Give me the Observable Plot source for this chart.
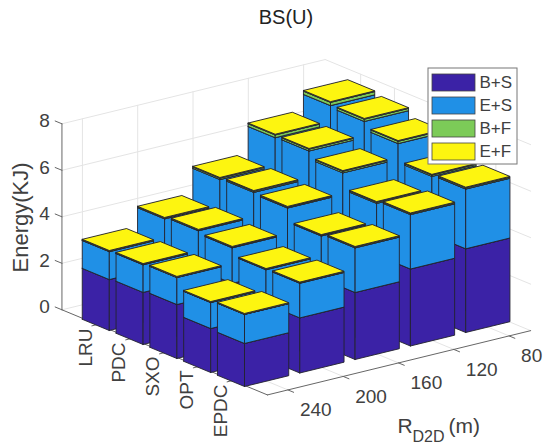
<!DOCTYPE html>
<html><head><meta charset="utf-8">
<script src="https://cdn.jsdelivr.net/npm/d3@7"></script>
<script src="https://cdn.jsdelivr.net/npm/@observablehq/plot@0.6"></script>
<style>html,body{margin:0;padding:0;background:#fff}svg{display:block}</style>
</head><body><div id="chart"></div>
<script>
const categories = ["LRU","PDC","SXO","OPT","EPDC"];
const ranges = [240,200,160,120,80];
const zTicks = [0,2,4,6,8];
const seriesNames = ["B+S","E+S","B+F","E+F"];
const seriesColors = ["#3b22a6","#2090e6","#7ccb58","#fdf510"];
const bS = [[2.19,2.65,3.25,3.90,4.40],[2.24,2.70,3.30,3.95,4.40],[2.32,2.65,3.20,3.75,4.10],[1.89,2.35,2.85,3.30,3.60],[1.85,2.37,2.88,3.31,3.60]];
const eS = [[1.20,1.57,2.08,2.65,2.95],[1.19,1.61,2.08,2.63,2.87],[1.16,1.53,2.11,2.49,2.82],[1.12,1.49,1.86,2.23,2.51],[1.25,1.49,1.92,2.34,2.57]];
const bF = [[.02,.03,.06,.12,.14],[.02,.03,.05,.08,.10],[.02,.03,.04,.07,.10],[.01,.02,.03,.05,.06],[.01,.02,.03,.04,.05]];
const eF = [[.03,.03,.03,.03,.03],[.03,.03,.03,.03,.03],[.03,.03,.03,.03,.03],[.03,.03,.03,.03,.03],[.03,.03,.03,.03,.03]];
const layers = [bS,eS,bF,eF];

// Orthographic view of the 3-D axes: i = category index, j = range index, z = energy.
const V = {ox:244, oy:386, ix:33.8, iy:14, jx:55.3, jy:-13.5, kz:23.25, i0:4.4, j0:-0.4};
const iMin=-1.05, iMax=5.03, jMin=-0.37, jMax=4.39, zMax=8, half=0.4;
const px=(i,j)=>V.ox+V.ix*(i-V.i0)+V.jx*(j-V.j0);
const py=(i,j,z)=>V.oy+V.iy*(i-V.i0)+V.jy*(j-V.j0)-V.kz*z;
const pt=(i,j,z,extra)=>({x:px(i,j),y:py(i,j,z),...extra});

// Bar faces, painted back to front
const faces=[]; let fid=0;
function face(corners,series){fid++;const closed=[...corners,corners[0]];closed.forEach(c=>faces.push(pt(c[0],c[1],c[2],{id:fid,series})));}
for(let j=ranges.length-1;j>=0;j--){
  for(let i=0;i<categories.length;i++){
    let base=0;
    layers.forEach((layer,s)=>{
      const top=base+layer[i][j], n=seriesNames[s];
      const a=i-half,b=i+half,c=j-half,d=j+half;
      face([[a,c,base],[b,c,base],[b,c,top],[a,c,top]],n);
      face([[b,c,base],[b,d,base],[b,d,top],[b,c,top]],n);
      face([[a,c,top],[b,c,top],[b,d,top],[a,d,top]],n);
      base=top;
    });
  }
}

// Grid and axes as segments
const grid=[],axes=[]; let sid=0;
const seg=(arr,p,q)=>{sid++;arr.push(pt(...p,{id:sid}),pt(...q,{id:sid}));};
zTicks.forEach(z=>{
  seg(grid,[iMin,jMin,z],[iMin,jMax,z]);
  seg(grid,[iMin,jMax,z],[iMax,jMax,z]);
});
categories.forEach((_,i)=>{
  seg(grid,[i,jMin,0],[i,jMax,0]);
  seg(grid,[i,jMax,0],[i,jMax,zMax]);
});
ranges.forEach((_,j)=>{
  seg(grid,[iMin,j,0],[iMax,j,0]);
  seg(grid,[iMin,j,0],[iMin,j,zMax]);
});
seg(axes,[iMin,jMin,0],[iMin,jMin,zMax]);
seg(axes,[iMin,jMin,0],[iMax,jMin,0]);
seg(axes,[iMax,jMin,0],[iMax,jMax,0]);
zTicks.forEach(z=>seg(axes,[iMin,jMin,z],[iMin-0.2,jMin,z]));
categories.forEach((_,i)=>seg(axes,[i,jMin,0],[i,jMin-0.1,0]));
ranges.forEach((_,j)=>seg(axes,[iMax,j,0],[iMax+0.17,j,0]));

const textCol="#404040", font="Liberation Sans, Arial, sans-serif";
const legendRows=seriesNames.map((name,k)=>({name,top:74+k*23,bottom:91+k*23}));
const legendBox=[{x1:428,x2:517,y1:68,y2:164}];

const chart=Plot.plot({
  width:543,height:445,margin:0,
  x:{domain:[0,543],range:[0,543],axis:null},
  y:{domain:[0,445],range:[0,445],axis:null},
  color:{domain:seriesNames,range:seriesColors},
  style:{fontFamily:font,background:"#fff",overflow:"visible"},
  marks:[
    Plot.line(grid,{x:"x",y:"y",z:"id",stroke:"#e4e4e4",strokeWidth:1}),
    Plot.line(axes,{x:"x",y:"y",z:"id",stroke:"#666",strokeWidth:1}),
    Plot.line(faces,{x:"x",y:"y",z:"id",fill:"series",stroke:"#23232e",strokeWidth:0.9,strokeLinejoin:"round"}),
    Plot.text(zTicks,{x:z=>px(iMin,jMin),y:z=>py(iMin,jMin,z),text:z=>String(z),textAnchor:"end",dx:-12,dy:-2.5,fontSize:19,fill:textCol}),
    Plot.text(categories,{x:(d,i)=>px(i,jMin),y:(d,i)=>py(i,jMin,0),text:d=>d,rotate:-90,textAnchor:"end",dx:-12,dy:4,fontSize:19,fill:textCol}),
    Plot.text(ranges,{x:(d,j)=>px(iMax,j),y:(d,j)=>py(iMax,j,0),text:d=>String(d),textAnchor:"start",dx:12,dy:20,fontSize:19,fill:textCol}),
    Plot.text(["BS(U)"],{x:()=>285.5,y:()=>17,text:d=>d,fontSize:20,fill:"#222"}),
    Plot.text(["Energy(KJ)"],{x:()=>20,y:()=>217,text:d=>d,rotate:-90,fontSize:22,fill:textCol}),
    Plot.text(["R"],{x:()=>397,y:()=>426,text:d=>d,textAnchor:"start",fontSize:21,fill:textCol}),
    Plot.text(["D2D"],{x:()=>412,y:()=>436,text:d=>d,textAnchor:"start",fontSize:16,fill:textCol}),
    Plot.text(["(m)"],{x:()=>448,y:()=>426,text:d=>d,textAnchor:"start",fontSize:21,fill:textCol}),
    Plot.rect(legendBox,{x1:"x1",x2:"x2",y1:"y1",y2:"y2",fill:"#fff",stroke:"#777",strokeWidth:1}),
    Plot.rect(legendRows,{x1:()=>432,x2:()=>475,y1:"top",y2:"bottom",fill:"name",stroke:"#444",strokeWidth:0.8}),
    Plot.text(legendRows,{x:()=>479,y:d=>(d.top+d.bottom)/2,text:"name",textAnchor:"start",fontSize:17,fill:textCol})
  ]
});
document.getElementById("chart").append(chart);
</script>
</body></html>
